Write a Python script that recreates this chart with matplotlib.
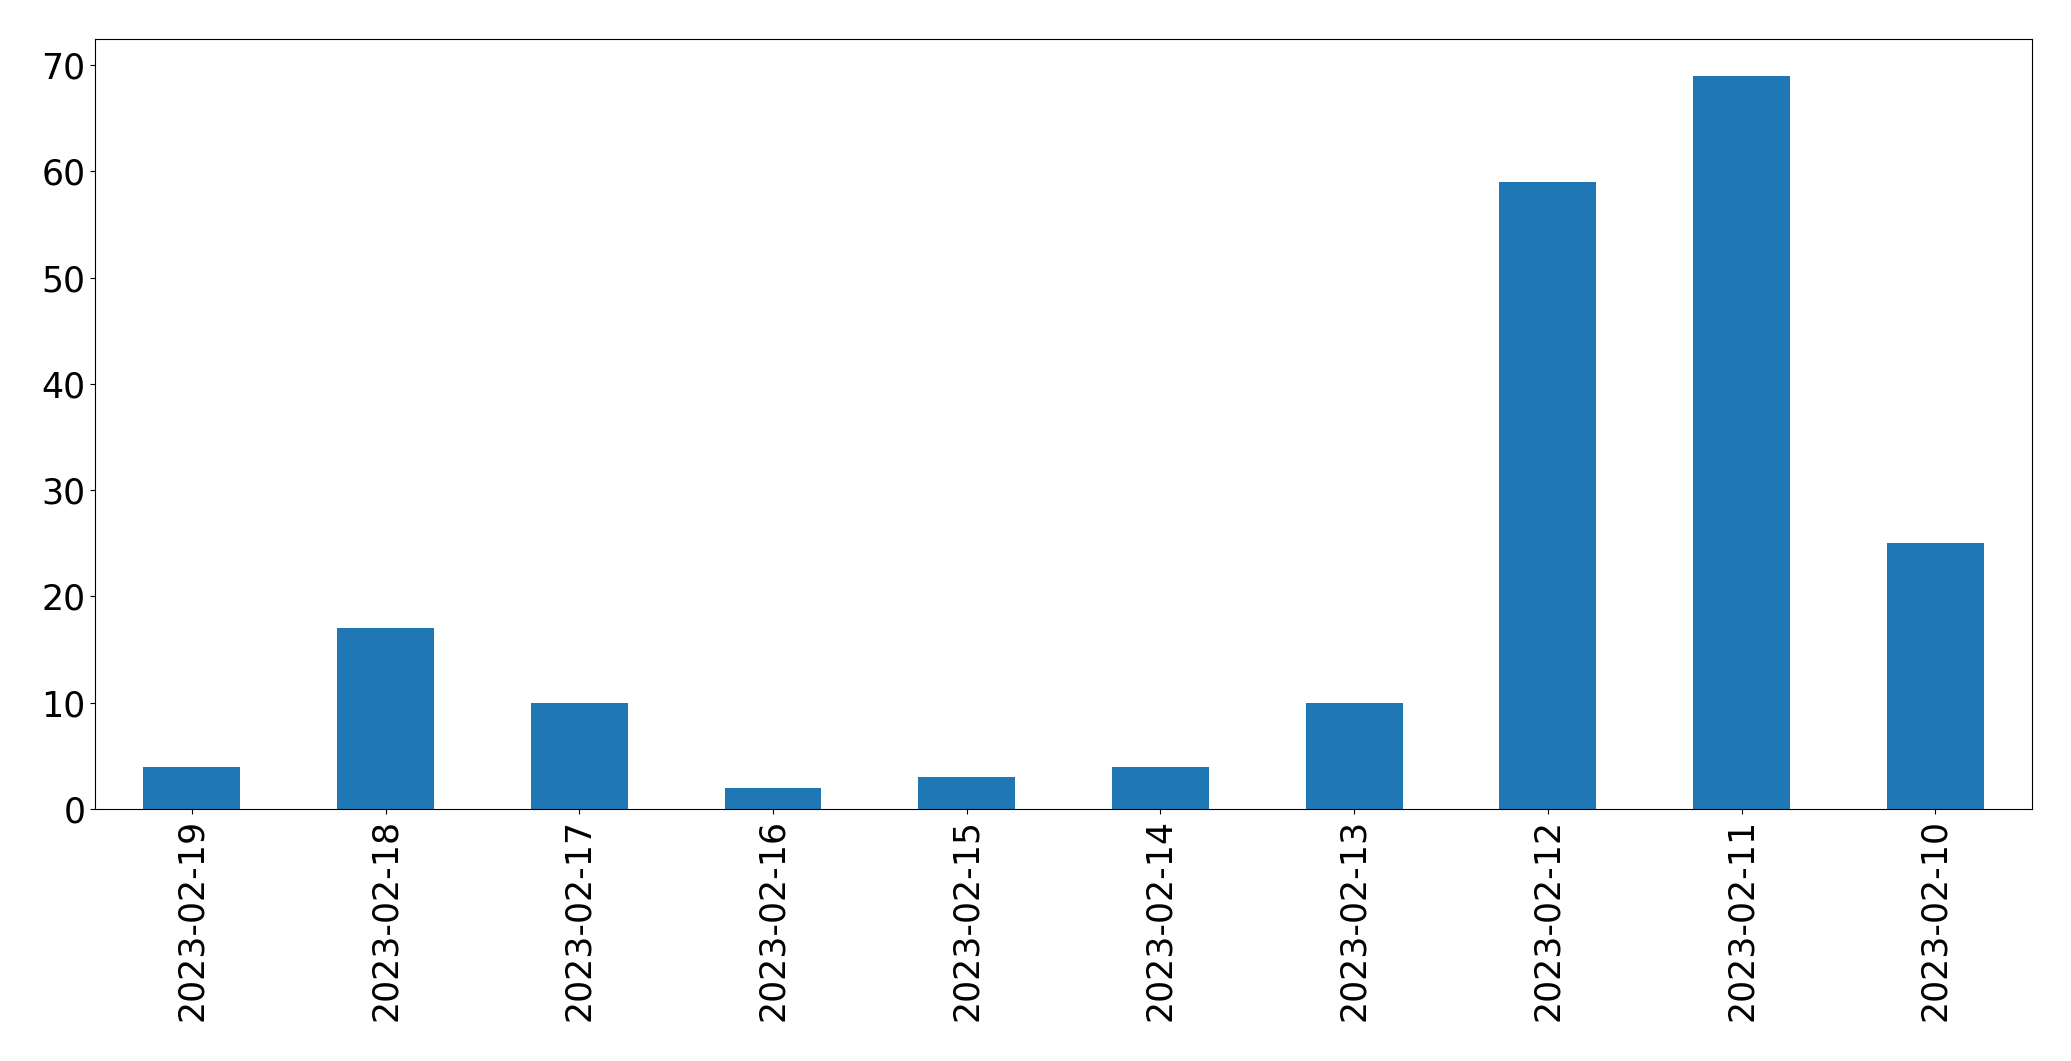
import matplotlib as mpl
mpl.use('Agg')
import matplotlib.pyplot as plt

dates = ['2023-02-19', '2023-02-18', '2023-02-17', '2023-02-16', '2023-02-15',
         '2023-02-14', '2023-02-13', '2023-02-12', '2023-02-11', '2023-02-10']
counts = [4, 17, 10, 2, 3, 4, 10, 59, 69, 25]

fig = plt.figure(figsize=(20.71, 10.61), dpi=100)
fig.subplots_adjust(left=0.0459, right=0.9812, top=0.9632, bottom=0.2375)
ax = fig.add_subplot(111)

x = range(len(dates))
ax.bar(x, counts, width=0.5, color='#1f77b4')
ax.set_xticks(list(x))
ax.set_xticklabels(dates, rotation=90)
ax.set_xlim(-0.5, len(dates) - 0.5)
ax.set_ylim(0, max(counts) * 1.05)
ax.tick_params(labelsize=25)

plt.savefig('out.png')
plt.close()
